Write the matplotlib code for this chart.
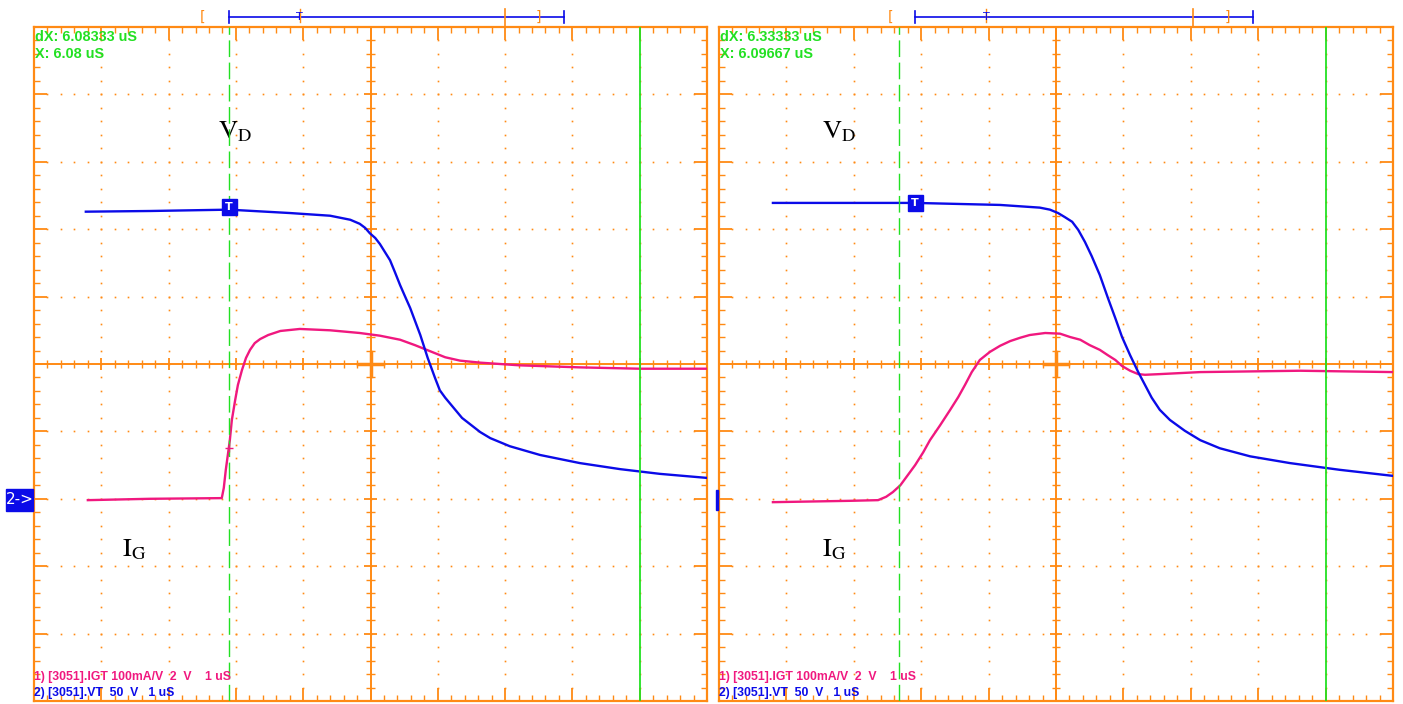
import matplotlib

matplotlib.use("Agg")
import matplotlib.pyplot as plt
import numpy as np
from matplotlib.collections import LineCollection
from matplotlib.patches import Rectangle

plt.rcParams["mathtext.fontset"] = "stix"

W, H = 1403, 704
ORANGE = "#ff8a14"
BLUE = "#0b0be8"
PINK = "#f0187f"
GREEN = "#22e022"

# screen is 10 x 10 divisions, x: 0..10 (1 uS/div), y: -5..5 around the centre line
left_vd_x = [0.77, 1.72, 2.90, 3.80, 4.40, 4.70, 4.84, 4.92, 4.99, 5.07, 5.14, 5.29,
             5.36, 5.44, 5.51, 5.59, 5.74, 5.85, 5.96, 6.03, 6.11, 6.26, 6.36, 6.63,
             6.78, 7.07, 7.52, 8.11, 8.71, 9.30, 10.0]
left_vd_y = [2.26, 2.27, 2.29, 2.24, 2.20, 2.14, 2.08, 2.02, 1.94, 1.87, 1.78, 1.54,
             1.37, 1.17, 1.01, 0.83, 0.43, 0.09, -0.21, -0.39, -0.50, -0.68, -0.80, -1.01,
             -1.10, -1.22, -1.35, -1.47, -1.56, -1.63, -1.69]
left_ig_x = [0.80, 1.72, 2.79, 2.82, 2.85, 2.88, 2.91, 2.94, 2.99, 3.03, 3.09, 3.15,
             3.21, 3.28, 3.36, 3.48, 3.66, 3.95, 4.40, 4.84, 5.14, 5.44, 5.66, 5.81,
             5.96, 6.11, 6.33, 6.63, 7.22, 8.11, 9.00, 10.0]
left_ig_y = [-2.02, -2.00, -1.99, -1.84, -1.57, -1.35, -1.13, -0.83, -0.53, -0.31, -0.09, 0.09,
             0.21, 0.31, 0.37, 0.43, 0.49, 0.52, 0.50, 0.46, 0.42, 0.36, 0.28, 0.22,
             0.16, 0.10, 0.05, 0.02, -0.02, -0.05, -0.07, -0.07]

right_vd_x = [0.80, 1.94, 2.91, 4.17, 4.76, 4.91, 5.03, 5.13, 5.24, 5.33, 5.43, 5.53,
              5.65, 5.77, 5.88, 5.98, 6.10, 6.22, 6.32, 6.42, 6.54, 6.69, 6.91, 7.14,
              7.43, 7.88, 8.47, 9.21, 10.0]
right_vd_y = [2.39, 2.39, 2.39, 2.36, 2.32, 2.29, 2.24, 2.18, 2.11, 1.99, 1.81, 1.60,
              1.32, 0.98, 0.68, 0.40, 0.13, -0.12, -0.31, -0.50, -0.68, -0.83, -0.99, -1.13,
              -1.25, -1.37, -1.47, -1.57, -1.66]
right_ig_x = [0.80, 1.94, 2.36, 2.48, 2.58, 2.69, 2.80, 2.91, 3.03, 3.13, 3.28, 3.43,
              3.55, 3.65, 3.75, 3.87, 4.02, 4.17, 4.32, 4.47, 4.61, 4.84, 5.06, 5.21,
              5.36, 5.50, 5.65, 5.77, 5.88, 5.98, 6.10, 6.22, 6.32, 6.54, 7.14, 8.62, 10.0]
right_ig_y = [-2.05, -2.03, -2.02, -1.97, -1.90, -1.80, -1.65, -1.50, -1.31, -1.13, -0.91, -0.68,
              -0.49, -0.31, -0.12, 0.06, 0.18, 0.27, 0.34, 0.39, 0.43, 0.46, 0.45, 0.40,
              0.36, 0.28, 0.21, 0.13, 0.06, -0.03, -0.10, -0.15, -0.16, -0.15, -0.12, -0.10, -0.12]

cursor_texts = [("dX: 6.08333 uS", "X: 6.08 uS"), ("dX: 6.33333 uS", "X: 6.09667 uS")]
cursor_a = [2.90, 2.67]
cursor_b = [9.00, 9.01]
trigger_pos = [(2.90, 2.33), (2.91, 2.39)]
# top time bar: "[", bar start, T, orange mark, "]", bar end
bar_marks = [(2.51, 2.90, 3.95, 7.00, 7.49, 7.88), (2.54, 2.91, 3.96, 7.03, 7.54, 7.92)]
label_pos = [((2.73, 3.34), (1.31, -2.86)), ((1.53, 3.34), (1.53, -2.86))]
legend_lines = ["1) [3051].IGT 100mA/V  2  V    1 uS", "2) [3051].VT  50  V   1 uS"]


def draw_graticule(ax):
    segs_major, segs_minor = [], []
    steps = np.round(np.arange(0.2, 10.0, 0.2), 1)
    for v in steps:
        major = abs(v - round(v)) < 1e-6
        b = 0.19 if major else 0.09
        c = 0.09 if major else 0.065
        yv = v - 5
        segs = segs_major if major else segs_minor
        segs += [[(v, 5), (v, 5 - b)], [(v, -5), (v, -5 + b)],
                 [(0, yv), (b, yv)], [(10, yv), (10 - b, yv)]]
        if abs(v - 5) > 1e-6:
            segs += [[(v, -c), (v, c)], [(5 - c, yv), (5 + c, yv)]]
    ax.add_collection(LineCollection(segs_major, colors=ORANGE, linewidths=1.3))
    ax.add_collection(LineCollection(segs_minor, colors=ORANGE, linewidths=1.0))
    ax.axhline(0, color=ORANGE, lw=1.4)
    ax.axvline(5, color=ORANGE, lw=1.4)
    ax.plot([4.82, 5.18], [0, 0], color=ORANGE, lw=2.5)
    ax.plot([5, 5], [-0.18, 0.18], color=ORANGE, lw=2.5)
    # dotted major grid
    fine = np.round(np.arange(0.2, 10.0, 0.2), 1)
    dx, dy = [], []
    for m in [1, 2, 3, 4, 6, 7, 8, 9]:
        dx += [m] * len(fine)
        dy += list(fine - 5)
        dx += list(fine)
        dy += [m - 5] * len(fine)
    ax.plot(dx, dy, ls="none", marker="s", ms=1.2, mew=0, color=ORANGE)
    for s in ax.spines.values():
        s.set_color(ORANGE)
        s.set_linewidth(1.6)


def draw_panel(ax, i, vd_x, vd_y, ig_x, ig_y):
    ax.set_xlim(0, 10)
    ax.set_ylim(-5, 5)
    ax.set_xticks([])
    ax.set_yticks([])
    draw_graticule(ax)

    ax.plot(ig_x, ig_y, color=PINK, lw=1.7, zorder=3)
    ax.plot(vd_x, vd_y, color=BLUE, lw=1.7, zorder=4)

    ax.axvline(cursor_a[i], color=GREEN, lw=1.0, dashes=(12, 4), zorder=5)
    ax.axvline(cursor_b[i], color=GREEN, lw=1.3, zorder=5)

    tx, ty = trigger_pos[i]
    ax.add_patch(Rectangle((tx - 0.11, ty - 0.12), 0.22, 0.24, color=BLUE, zorder=6))
    ax.text(tx, ty, "T", color="white", fontsize=8, fontweight="bold",
            ha="center", va="center", zorder=7)

    t1, t2 = cursor_texts[i]
    ax.text(0.02, 4.96, t1, color=GREEN, fontsize=10.4, fontweight="bold",
            family="Liberation Sans", va="top", zorder=8)
    ax.text(0.02, 4.70, t2, color=GREEN, fontsize=10.4, fontweight="bold",
            family="Liberation Sans", va="top", zorder=8)

    (vx, vy), (gx, gy) = label_pos[i]
    ax.text(vx, vy, r"$\mathrm{V}_{\mathrm{D}}$", fontsize=19, color="black", va="baseline")
    ax.text(gx, gy, r"$\mathrm{I}_{\mathrm{G}}$", fontsize=19, color="black", va="baseline")

    ax.text(0.0, -4.64, legend_lines[0], color=PINK, fontsize=8.8, fontweight="bold",
            family="Liberation Sans", va="center", zorder=8)
    ax.text(0.0, -4.88, legend_lines[1], color=BLUE, fontsize=8.8, fontweight="bold",
            family="Liberation Sans", va="center", zorder=8)

    lb, b0, tm, om, rb, b1 = bar_marks[i]
    kw = dict(clip_on=False)
    ax.plot([b0, b1], [5.15, 5.15], color=BLUE, lw=1.2, **kw)
    ax.plot([b0, b0], [5.06, 5.24], color=BLUE, lw=1.2, **kw)
    ax.plot([b1, b1], [5.06, 5.24], color=BLUE, lw=1.2, **kw)
    ax.plot([om, om], [5.0, 5.27], color=ORANGE, lw=1.2, **kw)
    ax.plot([tm, tm], [5.08, 5.27], color=ORANGE, lw=1.0, **kw)
    ax.text(tm, 5.15, "T", color=BLUE, fontsize=8, ha="center", va="center", clip_on=False)
    ax.text(lb, 5.15, "[", color=ORANGE, fontsize=10, ha="center", va="center", clip_on=False)
    ax.text(rb, 5.15, "]", color=ORANGE, fontsize=10, ha="center", va="center", clip_on=False)


fig = plt.figure(figsize=(W / 100, H / 100), dpi=100)
ax_l = fig.add_axes([34 / W, 3 / H, 673 / W, 674 / H])
ax_r = fig.add_axes([719 / W, 3 / H, 674 / W, 674 / H])
draw_panel(ax_l, 0, left_vd_x, left_vd_y, left_ig_x, left_ig_y)
draw_panel(ax_r, 1, right_vd_x, right_vd_y, right_ig_x, right_ig_y)

# small "+" on the current trace at the trigger cursor
ax_l.plot([2.90], [-1.24], marker="+", ms=6, color=PINK, zorder=5)

# channel 2 ground marker
fig.add_artist(Rectangle((6 / W, (H - 511) / H), 27 / W, 22 / H, color=BLUE,
                         transform=fig.transFigure))
fig.text(19.5 / W, (H - 500) / H, "2->", color="white", fontsize=11,
         ha="center", va="center")
fig.add_artist(Rectangle((716 / W, (H - 510) / H), 2 / W, 20 / H, color=BLUE,
                         transform=fig.transFigure))

fig.savefig("out.png", dpi=100)
